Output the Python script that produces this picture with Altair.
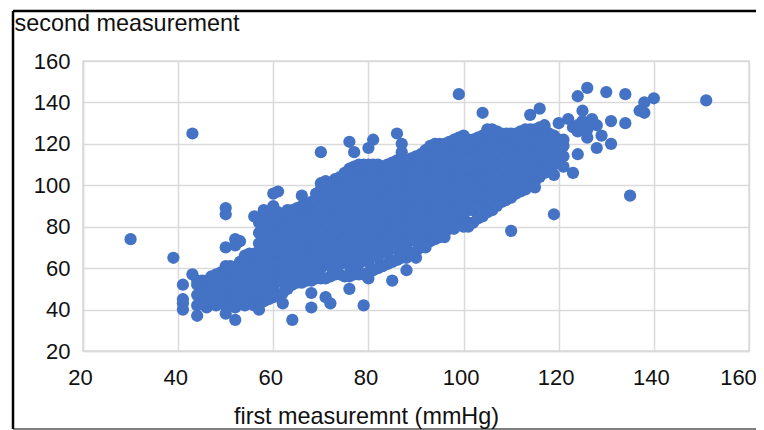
import altair as alt

FONT = "Liberation Sans"
BLUE = "#4472C4"
GRID = "#DADADA"

cloud = {
    44: [42, 47, 52, 54],
    45: [44, 49, 54],
    46: [41, 45, 50, 54],
    47: [43, 48, 53, 56],
    48: [42, 47, 52, 57],
    49: [44, 49, 54, 58],
    50: [42, 46, 51, 56, 60],
    51: [43, 48, 53, 58, 61],
    52: [41, 45, 50, 55, 60],
    53: [43, 48, 53, 58, 63],
    54: [42, 47, 52, 57, 62, 66],
    55: [43, 49, 54, 59, 64, 67],
    56: [42, 46, 51, 56, 61, 67],
    57: [43, 48, 53, 58, 63, 68, 72, 77, 82],
    58: [44, 49, 54, 59, 64, 69, 74, 79, 84],
    59: [45, 51, 56, 61, 66, 71, 76, 81, 86],
    60: [46, 51, 56, 61, 66, 71, 76, 81, 86],
    61: [47, 54, 58, 63, 68, 73, 78, 83, 87],
    62: [48, 53, 58, 63, 68, 73, 78, 83, 86],
    63: [50, 55, 60, 65, 70, 75, 80, 85, 88],
    64: [52, 56, 61, 66, 71, 76, 81, 86, 88],
    65: [53, 59, 64, 69, 74, 79, 84, 89],
    66: [53, 58, 63, 68, 73, 78, 83, 88, 90],
    67: [54, 61, 66, 71, 76, 81, 86, 91],
    68: [54, 59, 64, 69, 74, 79, 84, 89, 92],
    69: [55, 62, 67, 72, 77, 82, 87, 92, 96],
    70: [55, 60, 65, 70, 75, 80, 85, 90, 95, 98],
    71: [55, 63, 68, 73, 78, 83, 88, 93, 99],
    72: [56, 61, 66, 71, 76, 81, 86, 91, 96, 101],
    73: [57, 64, 69, 74, 79, 84, 89, 94, 99, 103],
    74: [57, 62, 67, 72, 77, 82, 87, 92, 97, 102, 104],
    75: [56, 64, 69, 74, 79, 84, 89, 94, 99, 104, 106],
    76: [56, 61, 66, 71, 76, 81, 86, 91, 96, 101, 106, 108],
    77: [57, 64, 69, 74, 79, 84, 89, 94, 99, 104, 109],
    78: [57, 62, 67, 72, 77, 82, 87, 92, 97, 102, 107, 110],
    79: [57, 65, 70, 75, 80, 85, 90, 95, 100, 105, 110],
    80: [58, 63, 68, 73, 78, 83, 88, 93, 98, 103, 108, 110],
    81: [59, 66, 71, 76, 81, 86, 91, 96, 101, 106, 110],
    82: [60, 65, 70, 75, 80, 85, 90, 95, 100, 105, 110],
    83: [61, 69, 74, 79, 84, 89, 94, 99, 104, 109],
    84: [62, 67, 72, 77, 82, 87, 92, 97, 102, 107, 110],
    85: [63, 71, 76, 81, 86, 91, 96, 101, 106, 111],
    86: [64, 69, 74, 79, 84, 89, 94, 99, 104, 109, 112],
    87: [65, 72, 77, 82, 87, 92, 97, 102, 107, 112],
    88: [65, 70, 75, 80, 85, 90, 95, 100, 105, 110, 112],
    89: [67, 75, 80, 85, 90, 95, 100, 105, 110, 113],
    90: [68, 73, 78, 83, 88, 93, 98, 103, 108, 113, 114],
    91: [70, 76, 81, 86, 91, 96, 101, 106, 111, 115],
    92: [72, 76, 81, 86, 91, 96, 101, 106, 111, 116, 117],
    93: [73, 79, 84, 89, 94, 99, 104, 109, 114, 119],
    94: [74, 78, 83, 88, 93, 98, 103, 108, 113, 118, 120],
    95: [75, 81, 86, 91, 96, 101, 106, 111, 116, 120],
    96: [77, 81, 86, 91, 96, 101, 106, 111, 116, 120],
    97: [79, 84, 89, 94, 99, 104, 109, 114, 119, 121],
    98: [80, 84, 89, 94, 99, 104, 109, 114, 119, 122],
    99: [81, 86, 91, 96, 101, 106, 111, 116, 121, 123],
    100: [82, 86, 91, 96, 101, 106, 111, 116, 121, 124],
    101: [82, 88, 93, 98, 103, 108, 113, 118, 122],
    102: [82, 88, 93, 98, 103, 108, 113, 118, 122],
    103: [84, 90, 95, 100, 105, 110, 115, 120, 123],
    104: [85, 90, 95, 100, 105, 110, 115, 120, 124],
    105: [87, 93, 98, 103, 108, 113, 118, 123, 126],
    106: [88, 92, 97, 102, 107, 112, 117, 122, 127],
    107: [90, 96, 101, 106, 111, 116, 121, 126],
    108: [92, 95, 100, 105, 110, 115, 120, 125],
    109: [93, 98, 103, 108, 113, 118, 123, 125],
    110: [94, 98, 103, 108, 113, 118, 123, 125],
    111: [96, 101, 106, 111, 116, 121, 125],
    112: [97, 101, 106, 111, 116, 121, 126],
    113: [98, 104, 109, 114, 119, 124, 127],
    114: [100, 104, 109, 114, 119, 124, 127],
    115: [102, 107, 112, 117, 122, 127],
    116: [104, 107, 112, 117, 122, 127, 128],
    117: [106, 111, 116, 121, 126, 128],
    118: [108, 110, 115, 120, 125],
    119: [110, 115, 120, 124],
    120: [112, 117, 122],
    121: [114, 119, 122],
}

# separately visible points
outlier_first = [30, 39, 43, 41, 41, 41, 41, 43, 44, 50, 52, 53, 52, 50, 50, 52, 57, 62, 64, 68, 68,
                 71, 72, 76, 79, 80, 85, 88, 90, 92, 96, 98, 100, 101, 110, 119, 151, 140, 138, 137,
                 138, 134, 130, 126, 124, 99, 104, 116, 114, 86, 87, 87, 134, 131, 125, 122, 120,
                 127, 128, 129, 126, 128, 131, 124, 121, 123, 119, 135, 115, 123, 124, 125, 124, 126,
                 76, 81, 80, 70, 77, 61, 60, 66, 50, 50, 60, 58, 56, 70, 71, 105, 117]
outlier_second = [74, 65, 125, 52, 45, 43, 40, 57, 37, 70, 74, 73, 71, 61, 38, 35, 40, 43, 35, 41, 48,
                  46, 43, 50, 42, 55, 54, 59, 65, 70, 75, 79, 80, 80, 78, 86, 141, 142, 140, 136,
                  135, 144, 145, 147, 143, 144, 135, 137, 134, 125, 120, 116, 130, 131, 136, 132, 130,
                  132, 129, 124, 123, 118, 120, 115, 109, 106, 105, 95, 99, 128, 126, 131, 129, 127,
                  121, 122, 118, 116, 116, 97, 96, 95, 89, 86, 90, 88, 85, 101, 102, 127, 129]

x_ticks = [20, 40, 60, 80, 100, 120, 140, 160]
y_ticks = [20, 40, 60, 80, 100, 120, 140, 160]

rows = [{"first": k, "second": v} for k, vals in cloud.items() for v in vals]
rows += [{"first": a, "second": b} for a, b in zip(outlier_first, outlier_second)]

points = alt.Chart(alt.Data(values=rows)).mark_circle(size=150, opacity=1, color=BLUE, clip=False).encode(
    x=alt.X("first:Q", scale=alt.Scale(domain=[20, 160], nice=False, zero=False),
            axis=alt.Axis(values=x_ticks, title="first measuremnt (mmHg)", titleX=283, titleY=72,
                          titleAlign="center", titleBaseline="alphabetic", labelPadding=16,
                          labelOffset={"condition": {"test": "datum.value === 160", "value": -11}, "value": -3},
                          labelBound=False, labelFlush=False, labelOverlap=False)),
    y=alt.Y("second:Q", scale=alt.Scale(domain=[20, 160], nice=False, zero=False),
            axis=alt.Axis(values=y_ticks, title="second measurement", titleAngle=0, titleX=-69, titleY=-31,
                          titleAlign="left", titleBaseline="alphabetic", labelPadding=13,
                          labelBound=False, labelFlush=False, labelOverlap=False)),
)

one = alt.Data(values=[{}])
top_edge = alt.Chart(one).mark_rule(color="#000000", strokeWidth=2.5, clip=False).encode(
    x=alt.value(-70), x2=alt.value(680), y=alt.value(-50))
left_edge = alt.Chart(one).mark_rule(color="#000000", strokeWidth=2.5, clip=False).encode(
    x=alt.value(-70), y=alt.value(-50), y2=alt.value(368))
bottom_edge = alt.Chart(one).mark_rule(color="#000000", strokeWidth=1, clip=False).encode(
    x=alt.value(-70), x2=alt.value(680), y=alt.value(368))

chart = (
    alt.layer(points, top_edge, left_edge, bottom_edge)
    .properties(
        width=666, height=290,
        padding={"left": 75, "top": 53, "right": 7, "bottom": 79},
        autosize=alt.AutoSizeParams(type="none"),
        background="white",
    )
    .configure_view(stroke=GRID, strokeWidth=1.5)
    .configure_axis(
        grid=True, gridColor=GRID, gridWidth=1.5, domainColor=GRID, domainWidth=1.5, ticks=False,
        labelFont=FONT, labelFontSize=22, labelColor="#111111",
        titleFont=FONT, titleFontSize=23.4, titleFontWeight="normal", titleColor="#111111",
    )
)

chart.save("out.html", embed_options={"renderer": "svg", "actions": False})
